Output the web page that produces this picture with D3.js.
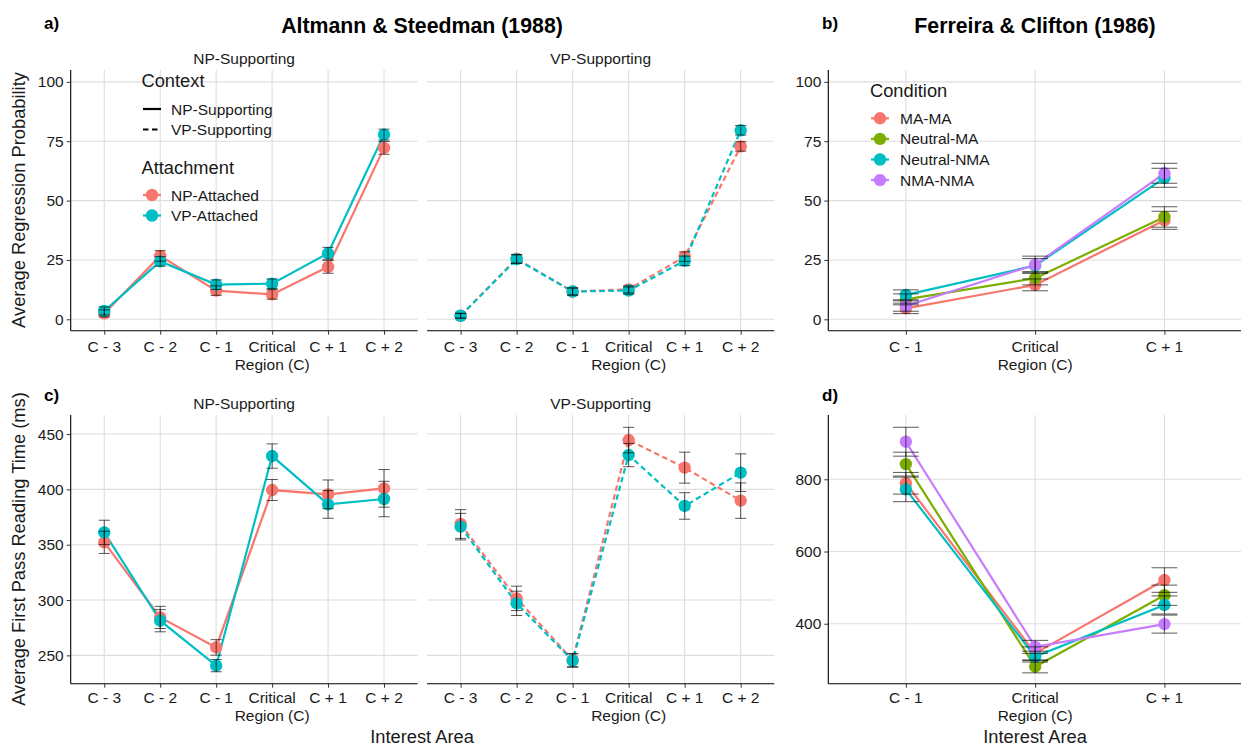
<!DOCTYPE html>
<html><head><meta charset="utf-8">
<script src="https://cdn.jsdelivr.net/npm/d3@7"></script>
<style>body{margin:0;background:#fff}svg{display:block;font-family:"Liberation Sans",Arial,sans-serif}</style>
</head><body>
<svg id="c" width="1241" height="745"></svg>
<script>
// ---- data ----
const regions6 = ["C - 3","C - 2","C - 1","Critical\nRegion (C)","C + 1","C + 2"];
const regions3 = ["C - 1","Critical\nRegion (C)","C + 1"];
const attachments = ["NP-Attached","VP-Attached"];
const contexts = ["NP-Supporting","VP-Supporting"];
const conditions = ["MA-MA","Neutral-MA","Neutral-NMA","NMA-NMA"];
const ticksProb = [0,25,50,75,100];
const ticksRT = [250,300,350,400,450];
const ticksRT2 = [400,600,800];

// a) regression probability (%)
const probNPsupNPatt = [2.5, 26.7, 12.1, 10.5, 22.1, 72.2];
const probNPsupNPattErr = [1.5, 2.2, 2.0, 2.0, 2.7, 2.7];
const probNPsupVPatt = [3.5, 24.4, 14.6, 15.0, 27.8, 77.8];
const probNPsupVPattErr = [1.7, 2.0, 2.0, 2.0, 2.5, 2.3];
const probVPsupNPatt = [1.5, 25.5, 11.7, 12.6, 26.4, 72.8];
const probVPsupNPattErr = [1.0, 1.8, 1.5, 1.5, 2.0, 2.0];
const probVPsupVPatt = [1.5, 25.3, 11.7, 12.1, 24.6, 79.6];
const probVPsupVPattErr = [1.0, 1.8, 1.5, 1.5, 2.0, 2.0];

// c) first pass reading time (ms)
const rtNPsupNPatt = [352.1, 284.3, 257.2, 399.4, 395.5, 400.9];
const rtNPsupNPattErr = [10, 10, 7, 9.5, 13, 17];
const rtNPsupVPatt = [361.1, 281.3, 240.7, 430.1, 386.4, 391.3];
const rtNPsupVPattErr = [11, 10, 5.5, 11, 12.5, 16];
const rtVPsupNPatt = [368.7, 301.5, 245.8, 444.6, 419.6, 389.8];
const rtVPsupNPattErr = [13, 11, 6, 11.5, 14, 16];
const rtVPsupVPatt = [366.3, 297.0, 245.2, 431.0, 385.0, 415.1];
const rtVPsupVPattErr = [12, 11, 6, 10.5, 12, 17];

// b) Ferreira & Clifton regression probability
const fcProbMAMA = [4.6, 14.5, 41.7];
const fcProbMAMAErr = [2.2, 2.5, 3.8];
const fcProbNeutralMA = [8.4, 17.3, 43.1];
const fcProbNeutralMAErr = [2.3, 2.8, 4.3];
const fcProbNeutralNMA = [10.3, 22.6, 59.6];
const fcProbNeutralNMAErr = [2.1, 3.0, 4.0];
const fcProbNMANMA = [5.6, 23.0, 61.5];
const fcProbNMANMAErr = [2.2, 3.6, 4.2];

// d) Ferreira & Clifton first pass reading time
const fcRtMAMA = [789, 318, 521];
const fcRtMAMAErr = [30, 18, 34];
const fcRtNeutralMA = [842, 281, 479];
const fcRtNeutralMAErr = [33, 17, 28];
const fcRtNeutralNMA = [772, 309, 452];
const fcRtNeutralNMAErr = [34, 15, 25];
const fcRtNMANMA = [904, 336, 399];
const fcRtNMANMAErr = [40, 18, 25];

// ---- drawing ----
const col2 = ["#F8766D","#00BFC4"];
const col4 = ["#F8766D","#7CAE00","#00BFC4","#C77CFF"];
const svg = d3.select("#c");
const FONT = '"Liberation Sans",Arial,sans-serif';
const TICK = 15.5, AXT = 18.3, TITLE = 21.3;

function panel(o){
  const g = svg.append("g");
  const x = d3.scalePoint().domain(o.cats).range([o.x0,o.x1]).padding(0.6);
  const y = d3.scaleLinear().domain(o.ydom).range([o.y1,o.y0]);
  g.selectAll(".gy").data(o.ticks).join("line")
    .attr("x1",o.x0).attr("x2",o.x1).attr("y1",d=>y(d)).attr("y2",d=>y(d))
    .attr("stroke","#dedede").attr("stroke-width",1.1);
  g.selectAll(".gx").data(o.cats).join("line")
    .attr("x1",d=>x(d)).attr("x2",d=>x(d)).attr("y1",o.y0).attr("y2",o.y1)
    .attr("stroke","#dedede").attr("stroke-width",1.1);
  const xa = g.append("g").attr("transform",`translate(0,${o.y1})`)
    .call(d3.axisBottom(x).tickSize(4).tickFormat(""));
  xa.select(".domain").attr("d",`M${o.x0},0H${o.x1}`).attr("stroke","#000").attr("stroke-width",1.1);
  xa.selectAll(".tick line").attr("stroke","#333");
  o.cats.forEach(c=>{
    c.split("\n").forEach((t,i)=>{
      g.append("text").attr("x",x(c)).attr("y",o.y1+o.lab+i*18)
        .attr("text-anchor","middle").attr("font-size",TICK).attr("fill","#1a1a1a").text(t);
    });
  });
  if(o.yaxis){
    const ya = g.append("g").attr("transform",`translate(${o.x0},0)`)
      .call(d3.axisLeft(y).tickValues(o.ticks).tickSize(4).tickPadding(3));
    ya.select(".domain").attr("d",`M0,${o.y0}V${o.y1}`).attr("stroke","#000").attr("stroke-width",1.1);
    ya.selectAll(".tick line").attr("stroke","#333");
    ya.selectAll(".tick text").attr("font-size",TICK).attr("fill","#1a1a1a").attr("font-family",FONT);
  }
  if(o.strip){
    g.append("text").attr("x",(o.x0+o.x1)/2).attr("y",o.y0-6.5).attr("text-anchor","middle")
      .attr("font-size",TICK).attr("fill","#1a1a1a").text(o.strip);
  }
  const line = d3.line().x((d,i)=>x(o.cats[i])).y(d=>y(d));
  o.series.forEach(s=>{
    g.append("path").attr("d",line(s.v)).attr("fill","none").attr("stroke",s.c)
      .attr("stroke-width",2.2).attr("stroke-dasharray",o.dashed?"5.5,3.5":null);
  });
  o.series.forEach(s=>{
    g.selectAll(null).data(s.v).join("circle").attr("cx",(d,i)=>x(o.cats[i])).attr("cy",d=>y(d))
      .attr("r",6.2).attr("fill",s.c);
  });
  const hw = x.step()*0.1;
  o.series.forEach(s=>{
    s.v.forEach((d,i)=>{
      const cx = x(o.cats[i]), lo=y(d-s.e[i]), hi=y(d+s.e[i]);
      g.append("path").attr("d",`M${cx-hw},${hi}H${cx+hw}M${cx},${hi}V${lo}M${cx-hw},${lo}H${cx+hw}`)
        .attr("fill","none").attr("stroke","#000").attr("stroke-opacity",0.65).attr("stroke-width",1);
    });
  });
}

const rA = {y0:70, y1:330.7, ydom:[-4.8,105], ticks:ticksProb, lab:21};
panel({...rA, x0:70.7, x1:417.6, cats:regions6, yaxis:true, strip:contexts[0], dashed:false,
  series:[{v:probNPsupNPatt,e:probNPsupNPattErr,c:col2[0]},{v:probNPsupVPatt,e:probNPsupVPattErr,c:col2[1]}]});
panel({...rA, x0:427, x1:774.3, cats:regions6, yaxis:false, strip:contexts[1], dashed:true,
  series:[{v:probVPsupNPatt,e:probVPsupNPattErr,c:col2[0]},{v:probVPsupVPatt,e:probVPsupVPattErr,c:col2[1]}]});
panel({...rA, x0:828.3, x1:1242, cats:regions3, yaxis:true, strip:null, dashed:false,
  series:[{v:fcProbMAMA,e:fcProbMAMAErr,c:col4[0]},{v:fcProbNeutralMA,e:fcProbNeutralMAErr,c:col4[1]},
          {v:fcProbNeutralNMA,e:fcProbNeutralNMAErr,c:col4[2]},{v:fcProbNMANMA,e:fcProbNMANMAErr,c:col4[3]}]});
const rC = {y0:415, y1:683.7, lab:19};
panel({...rC, ydom:[224.4,467.2], ticks:ticksRT, x0:70.7, x1:417.6, cats:regions6, yaxis:true, strip:contexts[0], dashed:false,
  series:[{v:rtNPsupNPatt,e:rtNPsupNPattErr,c:col2[0]},{v:rtNPsupVPatt,e:rtNPsupVPattErr,c:col2[1]}]});
panel({...rC, ydom:[224.4,467.2], ticks:ticksRT, x0:427, x1:774.3, cats:regions6, yaxis:false, strip:contexts[1], dashed:true,
  series:[{v:rtVPsupNPatt,e:rtVPsupNPattErr,c:col2[0]},{v:rtVPsupVPatt,e:rtVPsupVPattErr,c:col2[1]}]});
panel({...rC, ydom:[234,978], ticks:ticksRT2, x0:828.3, x1:1242, cats:regions3, yaxis:true, strip:null, dashed:false,
  series:[{v:fcRtMAMA,e:fcRtMAMAErr,c:col4[0]},{v:fcRtNeutralMA,e:fcRtNeutralMAErr,c:col4[1]},
          {v:fcRtNeutralNMA,e:fcRtNeutralNMAErr,c:col4[2]},{v:fcRtNMANMA,e:fcRtNMANMAErr,c:col4[3]}]});

function txt(x,y,t,size,opt={}){
  const e = svg.append("text").attr("x",x).attr("y",y).attr("font-size",size).attr("fill",opt.fill||"#000")
    .attr("text-anchor",opt.anchor||"start").attr("font-weight",opt.bold?"bold":null).text(t);
  if(opt.rot) e.attr("transform",`rotate(-90,${x},${y})`);
  return e;
}
txt(422,33,"Altmann & Steedman (1988)",TITLE,{bold:true,anchor:"middle"});
txt(1035,33,"Ferreira & Clifton (1986)",TITLE,{bold:true,anchor:"middle"});
txt(44,29,"a)",17,{bold:true});
txt(822,29,"b)",17,{bold:true});
txt(44,401,"c)",17,{bold:true});
txt(822,401,"d)",17,{bold:true});
txt(24.5,200,"Average Regression Probability",AXT,{anchor:"middle",rot:true,fill:"#1a1a1a"});
txt(24.5,549,"Average First Pass Reading Time (ms)",AXT,{anchor:"middle",rot:true,fill:"#1a1a1a"});
txt(422,742.5,"Interest Area",AXT,{anchor:"middle",fill:"#1a1a1a"});
txt(1035,742.5,"Interest Area",AXT,{anchor:"middle",fill:"#1a1a1a"});

// legend a
txt(141.5,87,"Context",AXT,{fill:"#1a1a1a"});
[0,1].forEach(i=>{
  const yy = 109 + i*20.5;
  svg.append("line").attr("x1",143).attr("x2",161).attr("y1",yy).attr("y2",yy).attr("stroke","#000")
    .attr("stroke-width",2.2).attr("stroke-dasharray",i?"5.5,3.5":null);
  txt(171,yy+5.5,contexts[i],TICK,{fill:"#1a1a1a"});
});
txt(141.5,174,"Attachment",AXT,{fill:"#1a1a1a"});
attachments.forEach((a,i)=>{
  const yy = 195 + i*20.5;
  svg.append("line").attr("x1",143).attr("x2",161).attr("y1",yy).attr("y2",yy).attr("stroke",col2[i]).attr("stroke-width",2.2);
  svg.append("circle").attr("cx",152).attr("cy",yy).attr("r",6.2).attr("fill",col2[i]);
  txt(171,yy+5.5,a,TICK,{fill:"#1a1a1a"});
});
// legend b
txt(870,97,"Condition",AXT,{fill:"#1a1a1a"});
conditions.forEach((c,i)=>{
  const yy = 118.3 + i*20.6;
  svg.append("line").attr("x1",871).attr("x2",889).attr("y1",yy).attr("y2",yy).attr("stroke",col4[i]).attr("stroke-width",2.2);
  svg.append("circle").attr("cx",880).attr("cy",yy).attr("r",6.2).attr("fill",col4[i]);
  txt(900,yy+5.5,c,TICK,{fill:"#1a1a1a"});
});
</script>
</body></html>
